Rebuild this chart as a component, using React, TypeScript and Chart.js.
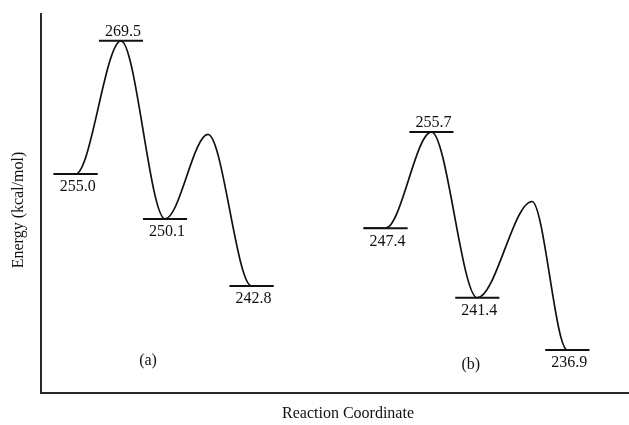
import React, { useEffect, useRef } from "react";
import { Chart, registerables } from "chart.js";

Chart.register(...registerables);

// Stationary points along each reaction path: reactant, TS1, intermediate, TS2, product
const coordA = [5.9, 13.6, 21.1, 28.4, 35.8];
const energyA = [255.0, 269.5, 250.1, 259.3, 242.8];
const coordB = [58.6, 66.4, 74.2, 83.5, 89.5];
const energyB = [247.4, 255.7, 241.4, 249.7, 236.9];

// Which points carry a level bar with its energy, and where the number sits
const hasLevel = [true, true, true, false, true];
const labelSide = ["below", "above", "below", "", "below"];

const panelNames = ["(a)", "(b)"];
const panelCoord = [18.2, 73.1];
const panelEnergy = [234.2, 235.3];

const yTitle = "Energy (kcal/mol)";
const xTitle = "Reaction Coordinate";

const HALF_LEVEL = 3.75;
const FONT = '16px "Liberation Serif", "Times New Roman", serif';
const INK = "#111";

function levelSets(coord: number[], energy: number[], axis: string) {
  const sets: any[] = [];
  coord.forEach((c, i) => {
    if (!hasLevel[i]) return;
    sets.push({
      data: [
        { x: c - HALF_LEVEL, y: energy[i] },
        { x: c + HALF_LEVEL, y: energy[i] },
      ],
      yAxisID: axis,
      borderColor: INK,
      borderWidth: 2,
      pointRadius: 0,
      tension: 0,
    });
  });
  return sets;
}

// The path runs flat along the first and last level bar, then through each stationary point
function pathSet(coord: number[], energy: number[], axis: string) {
  const pts = coord.map((c, i) => ({ x: c, y: energy[i] }));
  const last = coord.length - 1;
  pts.unshift({ x: coord[0] - HALF_LEVEL, y: energy[0] });
  pts.push({ x: coord[last] + HALF_LEVEL, y: energy[last] });
  return {
    data: pts,
    yAxisID: axis,
    borderColor: INK,
    borderWidth: 1.7,
    pointRadius: 0,
    cubicInterpolationMode: "monotone",
  };
}

const diagramPlugin = {
  id: "diagramDecor",
  afterDatasetsDraw(chart: any) {
    const { ctx, chartArea, scales } = chart;
    const x = scales.x;
    ctx.save();
    ctx.font = FONT;
    ctx.fillStyle = INK;
    ctx.textAlign = "center";
    ctx.textBaseline = "alphabetic";

    // energy labels on the level bars
    const paths = [
      { coord: coordA, energy: energyA, axis: scales.ya },
      { coord: coordB, energy: energyB, axis: scales.yb },
    ];
    paths.forEach((p) => {
      p.coord.forEach((c, i) => {
        if (!hasLevel[i]) return;
        const px = x.getPixelForValue(c) + 2;
        const py = p.axis.getPixelForValue(p.energy[i]);
        const ty = labelSide[i] === "above" ? py - 5 : py + 17.5;
        ctx.fillText(p.energy[i].toFixed(1), px, ty);
      });
    });

    // panel tags
    panelNames.forEach((name, k) => {
      const axis = k === 0 ? scales.ya : scales.yb;
      ctx.fillText(name, x.getPixelForValue(panelCoord[k]), axis.getPixelForValue(panelEnergy[k]));
    });

    // axis lines
    ctx.strokeStyle = "#2a2a2a";
    ctx.lineWidth = 2;
    ctx.beginPath();
    ctx.moveTo(chartArea.left, chartArea.top);
    ctx.lineTo(chartArea.left, chartArea.bottom);
    ctx.lineTo(chartArea.right, chartArea.bottom);
    ctx.stroke();

    // axis titles
    ctx.fillText(xTitle, (chartArea.left + chartArea.right) / 2 + 13, chartArea.bottom + 25);
    ctx.translate(19, 210);
    ctx.rotate(-Math.PI / 2);
    ctx.textBaseline = "middle";
    ctx.fillText(yTitle, 0, 0);
    ctx.restore();
  },
};

export default function App() {
  const ref = useRef<HTMLCanvasElement>(null);

  useEffect(() => {
    if (!ref.current) return;
    const chart = new Chart(ref.current, {
      type: "line",
      data: {
        datasets: [
          pathSet(coordA, energyA, "ya"),
          pathSet(coordB, energyB, "yb"),
          ...levelSets(coordA, energyA, "ya"),
          ...levelSets(coordB, energyB, "yb"),
        ],
      },
      options: {
        animation: false,
        responsive: false,
        layout: { padding: { left: 41, right: 0, top: 13, bottom: 32 } },
        plugins: { legend: { display: false }, tooltip: { enabled: false } },
        scales: {
          x: { type: "linear", min: 0, max: 100, display: false },
          ya: { type: "linear", min: 231.14, max: 272.53, display: false },
          yb: { type: "linear", min: 233.19, max: 265.95, display: false },
        },
      } as any,
      plugins: [diagramPlugin],
    });
    return () => chart.destroy();
  }, []);

  return (
    <div style={{ position: "fixed", left: 0, top: 0, width: 629, height: 425, background: "#fff" }}>
      <canvas ref={ref} width={629} height={425} />
    </div>
  );
}
